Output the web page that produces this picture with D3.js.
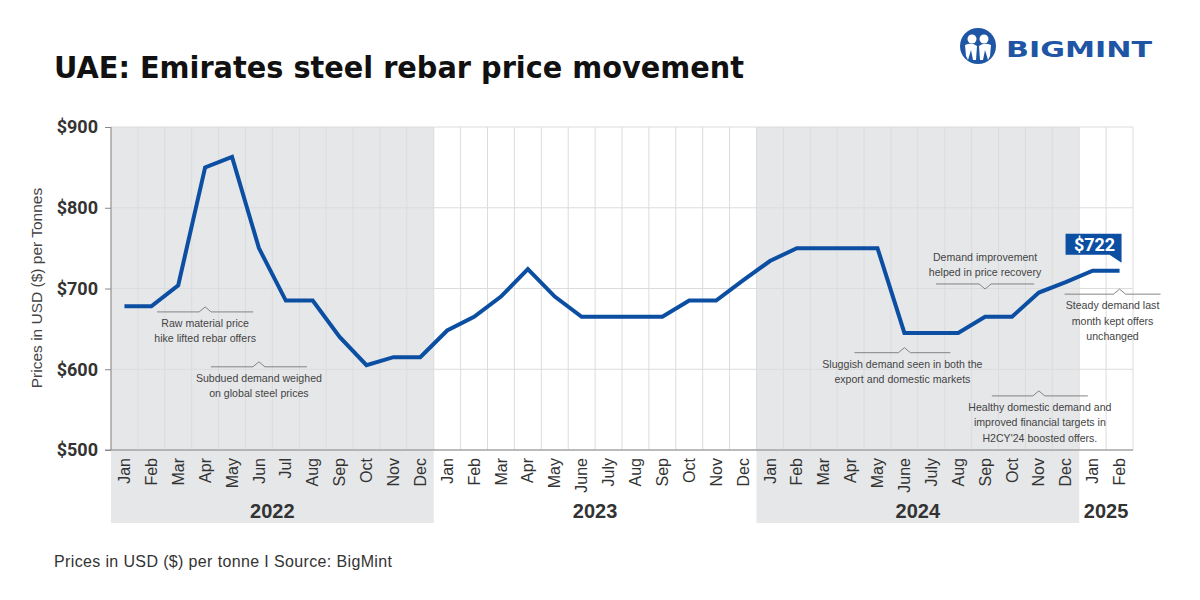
<!DOCTYPE html>
<html><head><meta charset="utf-8">
<script src="https://cdn.jsdelivr.net/npm/d3@7"></script>
<style>body{margin:0;background:#fff}svg{display:block}</style>
</head><body><svg id="c" width="1200" height="600"></svg>
<script>
const months = ["Jan","Feb","Mar","Apr","May","Jun","Jul","Aug","Sep","Oct","Nov","Dec",
  "Jan","Feb","Mar","Apr","May","June","July","Aug","Sep","Oct","Nov","Dec",
  "Jan","Feb","Mar","Apr","May","June","July","Aug","Sep","Oct","Nov","Dec",
  "Jan","Feb"];
const prices = [678,678,704,850,863,750,685,685,640,605,615,615,
  648,665,690,724,690,665,665,665,665,685,685,710,
  734,750,750,750,750,645,645,645,665,665,695,708,
  722,722];
const years = [{label:"2022",start:0,end:12,shade:true},{label:"2023",start:12,end:24,shade:false},
  {label:"2024",start:24,end:36,shade:true},{label:"2025",start:36,end:38,shade:false}];
const yTicks = [500,600,700,800,900];
const annotations = [
  {idx:3, v:671, dir:"up", lines:["Raw material price","hike lifted rebar offers"], w:48, dx:0, tdx:0},
  {idx:5, v:603, dir:"up", lines:["Subdued demand weighed","on global steel prices"], w:48, dx:0, tdx:0},
  {idx:29, v:620.5, dir:"up", lines:["Sluggish demand seen in both the","export and domestic markets"], w:48, dx:-2, tdx:-2},
  {idx:32, v:705.6, dir:"down", lines:["Demand improvement","helped in price recovery"], w:49, dx:0, tdx:0},
  {idx:34, v:567, dir:"up", lines:["Healthy domestic demand and","improved financial targets in","H2CY'24 boosted offers."], w:48, dx:1, tdx:1},
  {idx:37, v:693, dir:"up", lines:["Steady demand last","month kept offers","unchanged"], w:48, dx:-7, tdx:-7}
];

const svg = d3.select("#c");
const L=111, R=1133, T=127, B=450;
const x = d3.scaleBand().domain(d3.range(months.length)).range([L,R]).padding(0);
const y = d3.scaleLinear().domain([500,900]).range([B,T]);
const bw = x.bandwidth();
const cx = i => x(i)+bw/2;
const SANS = "Arial, 'Liberation Sans', sans-serif";

// shading
svg.selectAll("rect.shade").data(years.filter(d=>d.shade)).join("rect")
  .attr("x",d=>x(d.start)).attr("width",d=>x(d.end-1)+bw-x(d.start))
  .attr("y",T).attr("height",523-T).attr("fill","#e6e7e9");

// grid
svg.selectAll("line.vg").data(d3.range(months.length+1)).join("line")
  .attr("x1",i=>L+i*bw).attr("x2",i=>L+i*bw).attr("y1",T).attr("y2",B)
  .attr("stroke","#dcdcdc").attr("stroke-width",1);
svg.selectAll("line.hg").data(yTicks).join("line")
  .attr("x1",L).attr("x2",R).attr("y1",d=>y(d)).attr("y2",d=>y(d))
  .attr("stroke","#dcdcdc").attr("stroke-width",1);

// axes
const ya = svg.append("g").attr("transform",`translate(${L},0)`)
  .call(d3.axisLeft(y).tickValues(yTicks).tickSize(6).tickPadding(7).tickFormat(d=>"$"+d));
ya.select(".domain").attr("stroke","#888").attr("d",`M0,${T}V${B}`);
ya.selectAll(".tick line").attr("stroke","#888");
ya.selectAll("text").attr("font-family","Roboto, Arial, sans-serif").attr("font-weight",700)
  .attr("font-size",18).attr("fill","#333");
svg.append("line").attr("x1",L-6).attr("x2",R).attr("y1",B).attr("y2",B).attr("stroke","#888");

const xa = svg.append("g").attr("transform",`translate(0,${B})`)
  .call(d3.axisBottom(x).tickSize(0).tickFormat(i=>months[i]));
xa.select(".domain").remove();
xa.selectAll("text").attr("transform","rotate(-90)").attr("text-anchor","end")
  .attr("x",-8).attr("y",0).attr("dy","0.35em")
  .attr("font-family",SANS).attr("font-size",16).attr("fill","#333");

// year labels
svg.selectAll("text.yr").data(years).join("text")
  .attr("x",d=>(x(d.start)+x(d.end-1)+bw)/2).attr("y",518).attr("text-anchor","middle")
  .attr("font-family",SANS).attr("font-weight",700)
  .attr("font-size",20).attr("fill","#333").text(d=>d.label);

// y title
svg.append("text").attr("transform","translate(42,288) rotate(-90)").attr("text-anchor","middle")
  .attr("font-family",SANS).attr("font-size",15.5).attr("fill","#444")
  .text("Prices in USD ($) per Tonnes");

// line
svg.append("path").datum(prices)
  .attr("d",d3.line().x((d,i)=>cx(i)).y(d=>y(d)))
  .attr("fill","none").attr("stroke","#0b4ea2").attr("stroke-width",4).attr("stroke-linejoin","miter");

// annotations
annotations.forEach(a=>{
  const px = cx(a.idx), py = y(a.v);
  const s = a.dir==="up" ? -5 : 5;
  svg.append("path").attr("d",`M${px-a.w+a.dx},${py}H${px-6}L${px},${py+s}L${px+6},${py}H${px+a.w+a.dx}`)
    .attr("fill","none").attr("stroke","#777").attr("stroke-width",0.9);
  a.lines.forEach((t,k)=>{
    const ty = a.dir==="up" ? py+15+k*15.5 : py-23+k*15.5-(a.lines.length-2)*15.5;
    svg.append("text").attr("x",px+a.tdx).attr("y",ty).attr("text-anchor","middle")
      .attr("font-family",SANS).attr("font-size",10.6).attr("fill","#444").text(t);
  });
});

// last value label
const li = prices.length-1, lx = cx(li), ly = y(prices[li]);
svg.append("path").attr("d",`M${lx-54},${ly-37}H${lx+2}V${ly-8}L${lx-10},${ly-16}H${lx-54}Z`)
  .attr("fill","#0b4ea2");
svg.append("text").attr("x",lx-25).attr("y",ly-20).attr("text-anchor","middle")
  .attr("font-family","Roboto, Arial, sans-serif").attr("font-weight",700).attr("font-size",18).attr("fill","#fff")
  .text("$"+prices[li]);

// title
svg.append("text").attr("x",54).attr("y",78).attr("font-family","'DejaVu Sans', Verdana, sans-serif")
  .attr("font-weight",700).attr("font-size",30).attr("fill","#111")
  .attr("textLength",690).attr("lengthAdjust","spacingAndGlyphs")
  .text("UAE: Emirates steel rebar price movement");

// footer
svg.append("text").attr("x",54).attr("y",567).attr("font-family",SANS)
  .attr("font-size",16).attr("fill","#333").attr("textLength",338).attr("lengthAdjust","spacing")
  .text("Prices in USD ($) per tonne  I  Source: BigMint");

// logo
const lg = svg.append("g").attr("transform","translate(978,46)");
lg.append("circle").attr("r",18).attr("fill","#1f55a5");
lg.append("circle").attr("cx",-6).attr("cy",-7).attr("r",4.5).attr("fill","#fff");
lg.append("circle").attr("cx",6).attr("cy",-7).attr("r",4.5).attr("fill","#fff");
lg.append("path").attr("d","M-13,-1 Q-6,-4 -1,0 L-2,14 L-5,14 L-7,4 L-10,14 L-12,10 Z").attr("fill","#fff");
lg.append("path").attr("d","M13,-1 Q6,-4 1,0 L2,14 L5,14 L7,4 L10,14 L12,10 Z").attr("fill","#fff");
svg.append("text").attr("x",1006).attr("y",57).attr("font-family","'DejaVu Sans', Verdana, sans-serif")
  .attr("font-weight",700).attr("font-size",22).attr("fill","#1f55a5")
  .attr("textLength",146).attr("lengthAdjust","spacingAndGlyphs").text("BIGMINT");
</script></body></html>
